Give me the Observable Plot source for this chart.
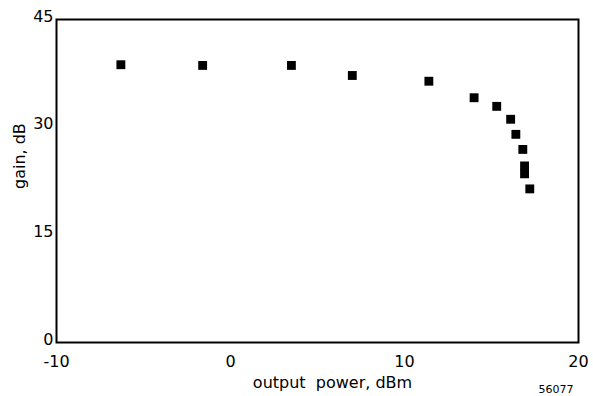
<!DOCTYPE html>
<html>
<head>
<meta charset="utf-8">
<script src="https://cdn.jsdelivr.net/npm/d3@7"></script>
<script src="https://cdn.jsdelivr.net/npm/@observablehq/plot@0.6"></script>
<style>
  html, body { margin: 0; padding: 0; background: #fff; }
  svg { display: block; }
</style>
</head>
<body>
<div id="chart"></div>
<script>
const outputPower = [-6.3, -1.6, 3.5, 7.0, 11.4, 14.0, 15.3, 16.1, 16.4, 16.8, 16.9, 16.9, 17.2];
const gain = [38.7, 38.6, 38.6, 37.2, 36.4, 34.1, 32.9, 31.1, 29.0, 26.9, 24.6, 23.5, 21.4];
const xTicks = [-10, 0, 10, 20];
const yTicks = [0, 15, 30, 45];
const xLabel = "output  power, dBm";
const yLabel = "gain, dB";
const figNote = "56077";

const data = outputPower.map((x, i) => ({x, y: gain[i]}));

const chart = Plot.plot({
  width: 593,
  height: 396,
  marginLeft: 56,
  marginTop: 19,
  marginRight: 15,
  marginBottom: 54,
  style: {fontFamily: "'DejaVu Sans', sans-serif", fontSize: "16px", color: "#000", background: "#fff"},
  x: {domain: [-10, 20], label: null},
  y: {domain: [0, 45], label: null},
  marks: [
    Plot.frame({stroke: "#000", strokeWidth: 2}),
    Plot.axisX({ticks: xTicks, tickSize: 0, tickPadding: 13, label: null, tickFormat: d => String(d)}),
    Plot.axisY({ticks: yTicks, tickSize: 0, tickPadding: 3, dy: -3, label: null}),
    Plot.dot(data, {x: "x", y: "y", symbol: "square", r: 5, fill: "#000", stroke: "none"}),
    Plot.text([xLabel], {frameAnchor: "bottom", dy: 45, dx: 15, fontSize: 16, fill: "#000"}),
    Plot.text([yLabel], {frameAnchor: "left", dx: -37, dy: 8, rotate: -90, fontSize: 16, fill: "#000"}),
    Plot.text([figNote], {frameAnchor: "bottom-right", dy: 50, dx: -5, fontSize: 11, fill: "#000", textAnchor: "end"})
  ]
});
document.getElementById("chart").appendChild(chart);
</script>
</body>
</html>
